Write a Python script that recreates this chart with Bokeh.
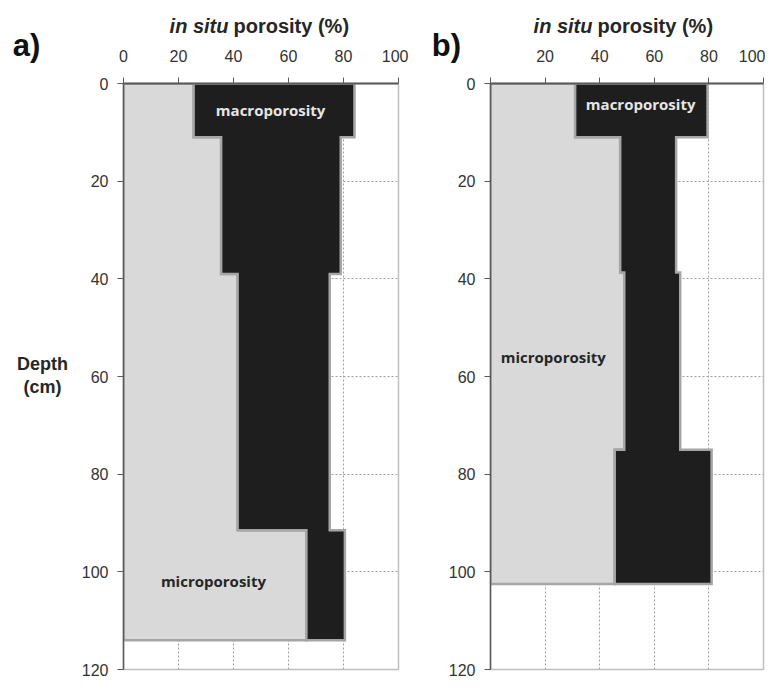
from bokeh.plotting import figure
from bokeh.models import Range1d, FixedTicker, Label
from bokeh.layouts import row, column
from bokeh.embed import file_html
from bokeh.resources import INLINE

# ---- data ----
depth_a = [0, 11, 39, 91.5, 114]          # layer boundaries (cm)
micro_a = [25.5, 35.5, 41.5, 66.5]        # microporosity (%)
total_a = [84, 79, 75, 80.5]              # total porosity (%) = micro + macro
depth_b = [0, 11, 38.7, 75, 102.5]
micro_b = [31, 47.5, 49, 45.5]
total_b = [79.5, 68, 69.5, 81]
x_ticks = [0, 20, 40, 60, 80, 100]
y_ticks = [0, 20, 40, 60, 80, 100, 120]

MICRO_FILL = "#d9d9d9"
MACRO_FILL = "#1e1e1e"
EDGE = "#a6a6a6"
TXT = "#262626"
FONT = "Liberation Sans"

TOTAL_W, TOTAL_H = 765, 679
TOP, FRAME_H, BOTTOM = 83, 586, 10


def step_edge(vals, depths):
    xs, ys = [], []
    for i, v in enumerate(vals):
        xs += [v, v]
        ys += [depths[i], depths[i + 1]]
    return xs, ys


def make_panel(depths, micro, total, macro_pos, micro_pos,
               left_border, frame_w, right_border, hide_zero):
    p = figure(output_backend="svg", toolbar_location=None,
               x_range=Range1d(0, 100), y_range=Range1d(120, 0),
               x_axis_location="above",
               frame_width=frame_w, frame_height=FRAME_H,
               min_border_left=left_border, min_border_right=right_border,
               min_border_top=TOP, min_border_bottom=BOTTOM,
               background_fill_color="white", border_fill_color="white")
    p.outline_line_color = "#bfbfbf"
    p.outline_line_width = 1.5

    p.xgrid.ticker = FixedTicker(ticks=x_ticks[1:])
    p.ygrid.ticker = FixedTicker(ticks=y_ticks[1:])
    for g in (p.xgrid, p.ygrid):
        g.grid_line_color = "#a0a0a0"
        g.grid_line_dash = "2 2"
        g.grid_line_width = 1

    for ax, ticks in ((p.xaxis, x_ticks), (p.yaxis, y_ticks)):
        ax.ticker = FixedTicker(ticks=ticks)
        ax.minor_tick_line_color = None
        ax.axis_line_color = "#595959"
        ax.major_tick_line_color = "#595959"
        ax.major_tick_in = 0
        ax.major_tick_out = 6
        ax.major_label_text_font = FONT
        ax.major_label_text_font_size = "16px"
        ax.major_label_text_color = "#333333"
    p.xaxis.axis_line_width = 2
    p.yaxis.axis_line_width = 1.5
    p.xaxis.major_label_standoff = 16
    p.yaxis.major_label_standoff = 9
    if hide_zero:
        p.xaxis.major_label_overrides = {0: ""}

    ex, ey = step_edge(micro, depths)
    p.patch([0] + ex + [0], [depths[0]] + ey + [depths[-1]],
            fill_color=MICRO_FILL, line_color=EDGE, line_width=2.5,
            line_join="miter")
    tx, ty = step_edge(total, depths)
    p.patch(tx + ex[::-1], ty + ey[::-1],
            fill_color=MACRO_FILL, line_color=EDGE, line_width=2.5,
            line_join="miter")

    p.add_layout(Label(x=macro_pos[0], y=macro_pos[1], text="macroporosity",
                       text_align="center", text_baseline="middle",
                       text_font="Open Sans", text_font_style="bold",
                       text_font_size="15px", text_color="#e6e6e6"))
    p.add_layout(Label(x=micro_pos[0], y=micro_pos[1], text="microporosity",
                       text_align="center", text_baseline="middle",
                       text_font="Open Sans", text_font_style="bold",
                       text_font_size="15px", text_color=TXT))
    return p


pa = make_panel(depth_a, micro_a, total_a, (53.5, 5.4), (32.7, 101.8),
                123, 275, 10, False)
pb = make_panel(depth_b, micro_b, total_b, (55, 4.3), (23, 56),
                82, 273, 2, True)

# transparent overlay carrying the texts that sit outside the plot frames
ov = figure(output_backend="svg", toolbar_location=None,
            width=TOTAL_W, height=TOTAL_H,
            x_range=Range1d(0, TOTAL_W), y_range=Range1d(TOTAL_H, 0),
            x_axis_type=None, y_axis_type=None,
            min_border=0, margin=(-TOTAL_H, 0, 0, 0),
            background_fill_color=None, border_fill_color=None)
ov.outline_line_color = None
ov.grid.visible = False


def ov_label(x, y, text, style, size, align="center", color=TXT):
    ov.add_layout(Label(x=x, y=y, text=text, text_align=align,
                        text_baseline="middle", text_font=FONT,
                        text_font_style=style, text_font_size=size,
                        text_color=color))


for split in (230, 594):
    ov_label(split - 2, 25, "in situ", "bold italic", "20px", "right")
    ov_label(split + 3, 25, "porosity (%)", "bold", "20px", "left")
ov_label(26, 45, "a)", "bold", "31px", color="#111111")
ov_label(446, 45, "b)", "bold", "31px", color="#111111")
ov_label(42, 363, "Depth", "bold", "18px")
ov_label(42, 386, "(cm)", "bold", "18px")

layout = column(row(pa, pb), ov)
open("out.html", "w").write(file_html(layout, INLINE))
